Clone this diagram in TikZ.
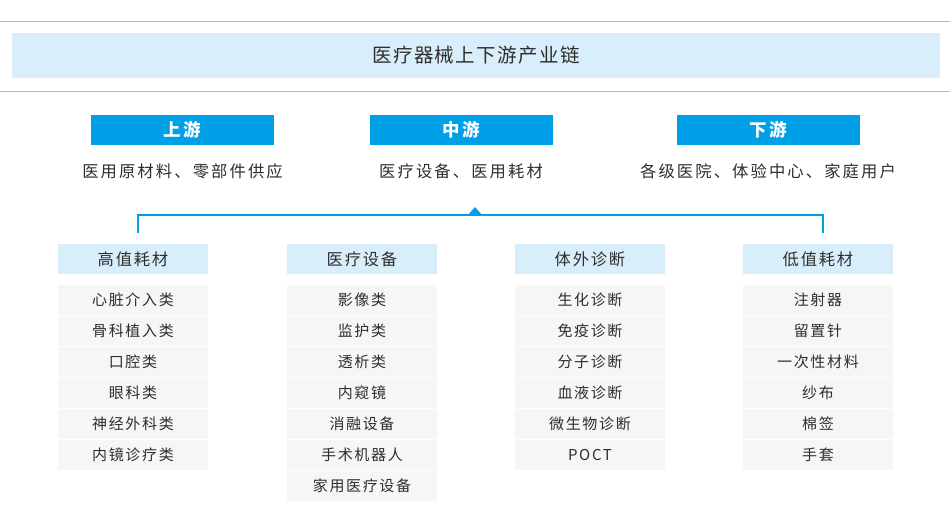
\documentclass[tikz,border=0pt]{standalone}
\usepackage{fontspec}
\setmainfont{Noto Sans CJK SC}
\newfontfamily\cjk{Noto Sans CJK SC}
\definecolor{lineblue}{HTML}{80CCEE}
\definecolor{bandblue}{HTML}{D9EEFB}
\definecolor{mainblue}{HTML}{00A0E9}
\definecolor{itemgray}{HTML}{F6F6F6}
\definecolor{txt}{HTML}{2E2E2E}
\tikzset{
  stagebox/.style={fill=mainblue, text=white, minimum width=183pt, minimum height=30pt, inner sep=0pt,
    font=\cjk\fontsize{17.5}{20}\selectfont\bfseries\addfontfeature{LetterSpace=14}},
  subtext/.style={text=txt, inner sep=0pt, font=\cjk\fontsize{16.3}{19}\selectfont\addfontfeature{LetterSpace=13}},
  cathead/.style={fill=bandblue, text=txt, minimum width=150pt, minimum height=30pt, inner sep=0pt,
    font=\cjk\fontsize{16.3}{19}\selectfont\addfontfeature{LetterSpace=11}},
  itembox/.style={fill=itemgray, text=txt, minimum width=150pt, minimum height=30pt, inner sep=0pt,
    font=\cjk\fontsize{15}{18}\selectfont\addfontfeature{LetterSpace=11}},
  conn/.style={draw=mainblue, line width=2pt},
}
\begin{document}
\begin{tikzpicture}[x=1pt,y=-1pt]
\useasboundingbox (0,0) rectangle (950,527);
\fill[white] (0,0) rectangle (950,527);
% title frame
\draw[lineblue, line width=1pt] (0,22) -- (950,22);
\draw[lineblue, line width=1pt] (0,91) -- (950,91);
\node[fill=bandblue, minimum width=928pt, minimum height=45pt, inner sep=0pt, text=txt,
  font=\cjk\fontsize{19.5}{22}\selectfont\addfontfeature{LetterSpace=7}] (title) at (476,55.5) {医疗器械上下游产业链};
% stages
\node[stagebox] (up) at (182.5,130) {上游};
\node[stagebox] (mid) at (461,130) {中游};
\node[stagebox] (down) at (768,130) {下游};
\node[subtext] (sub1) at (182.5,171) {医用原材料、零部件供应};
\node[subtext] (sub2) at (461,171) {医疗设备、医用耗材};
\node[subtext] (sub3) at (768,171) {各级医院、体验中心、家庭用户};
% category headers
\node[cathead] (h1) at (133,259) {高值耗材};
\node[cathead] (h2) at (362,259) {医疗设备};
\node[cathead] (h3) at (590,259) {体外诊断};
\node[cathead] (h4) at (818,259) {低值耗材};
% connector
\coordinate (L) at ([xshift=5pt,yshift=11pt]h1.north);
\coordinate (R) at ([xshift=5pt,yshift=11pt]h4.north);
\coordinate (tip) at (475,207);
\draw[conn] (L) -- ++(0,-18) -| (R);
\fill[mainblue] (tip) -- ++(7,8) -- ++(-14,0) -- cycle;
% items
\foreach \t [count=\i] in {心脏介入类,骨科植入类,口腔类,眼科类,神经外科类,内镜诊疗类}
  \node[itembox] (a\i) at (133,299.5+31*\i-31) {\t};
\foreach \t [count=\i] in {影像类,监护类,透析类,内窥镜,消融设备,手术机器人,家用医疗设备}
  \node[itembox] (b\i) at (362,299.5+31*\i-31) {\t};
\foreach \t [count=\i] in {生化诊断,免疫诊断,分子诊断,血液诊断,微生物诊断,POCT}
  \node[itembox] (c\i) at (590,299.5+31*\i-31) {\t};
\foreach \t [count=\i] in {注射器,留置针,一次性材料,纱布,棉签,手套}
  \node[itembox] (d\i) at (818,299.5+31*\i-31) {\t};
\end{tikzpicture}
\end{document}
